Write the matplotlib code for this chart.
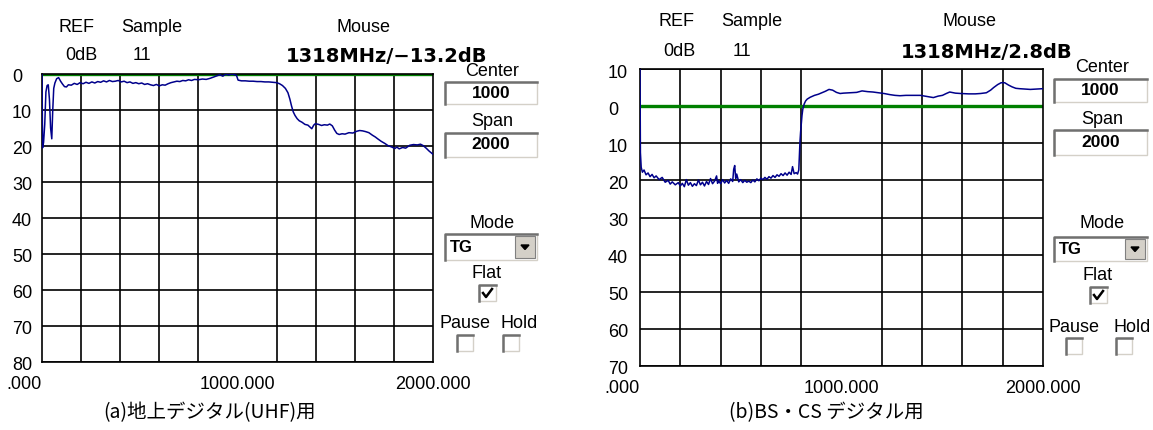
import matplotlib.pyplot as plt
import matplotlib.patches as mpatches
import matplotlib.transforms as mtransforms

# Trace (a) UHF: frequency (MHz) vs level (dB)
uhf_freq = [0, 3, 8, 14, 20, 26, 32, 38, 44, 50, 55, 60, 66, 75, 85, 95, 105, 115, 125, 135,
            150, 165, 180, 195, 210, 225, 240, 255, 270, 285, 300, 315, 330, 345, 360, 375,
            390, 405, 420, 435, 450, 465, 480, 495, 510, 525, 540, 555, 570, 585, 600, 615,
            630, 645, 660, 675, 690, 705, 720, 735, 750, 765, 780, 800, 820, 840, 860, 880,
            895, 910, 925, 940, 955, 970, 985, 995, 1003, 1020, 1040, 1060, 1080, 1100, 1120,
            1140, 1160, 1180, 1200, 1215, 1230, 1245, 1258, 1268, 1276, 1285, 1294, 1305,
            1316, 1330, 1345, 1360, 1372, 1380, 1390, 1398, 1415, 1430, 1444, 1460, 1472,
            1485, 1497, 1508, 1520, 1535, 1550, 1570, 1590, 1610, 1625, 1640, 1655, 1672,
            1690, 1705, 1717, 1735, 1754, 1770, 1790, 1805, 1815, 1827, 1845, 1860, 1881,
            1900, 1920, 1936, 1950, 1965, 1980, 2000]
uhf_db = [0.0, -20.5, -19.0, -14.0, -5.0, -3.2, -3.0, -7.0, -15.0, -18.0, -10.0, -4.0, -2.5,
          -1.3, -1.0, -2.0, -2.8, -3.5, -3.6, -3.0, -3.1, -2.6, -2.9, -2.4, -2.7, -2.3, -2.6,
          -2.2, -2.5, -2.1, -2.3, -1.9, -2.2, -1.8, -2.1, -2.0, -1.8, -2.2, -2.0, -2.4, -2.2,
          -2.6, -2.4, -2.7, -2.5, -2.9, -2.7, -3.0, -3.2, -2.9, -3.3, -3.0, -3.1, -2.7, -2.4,
          -2.2, -2.0, -2.1, -1.8, -1.9, -1.6, -1.8, -1.5, -1.6, -1.4, -1.5, -1.2, -0.8, -0.5,
          -0.2, -0.6, 0.0, -0.3, 0.0, -0.2, -0.4, -1.7, -1.9, -1.9, -2.0, -2.0, -2.1, -2.1,
          -2.2, -2.2, -2.3, -2.4, -2.7, -3.2, -4.0, -5.2, -7.0, -8.8, -10.5, -11.5, -12.4,
          -13.0, -13.4, -14.0, -14.2, -14.8, -15.2, -14.2, -13.8, -14.0, -14.3, -14.1, -14.2,
          -13.9, -14.4, -15.6, -16.5, -16.8, -16.6, -16.7, -16.3, -16.4, -15.9, -15.7, -15.8,
          -16.0, -16.3, -17.0, -17.5, -18.0, -18.7, -19.3, -19.9, -20.3, -20.7, -20.3, -20.8,
          -20.4, -20.6, -19.8, -19.6, -19.7, -19.5, -19.9, -20.6, -21.4, -22.3]

# Trace (b) BS/CS
bs_freq = [0, 2, 6, 12, 20, 30, 40, 50, 60, 70, 80, 95, 110, 125, 140, 150, 160, 175, 190,
           200, 210, 220, 230, 240, 250, 260, 270, 280, 290, 300, 310, 320, 330, 340, 350,
           360, 370, 380, 385, 390, 400, 410, 420, 430, 440, 450, 460, 465, 470, 475, 480,
           490, 500, 510, 520, 530, 540, 550, 560, 570, 580, 590, 600, 610, 620, 630, 640,
           650, 660, 670, 680, 690, 700, 710, 720, 730, 740, 750, 757, 765, 775, 782, 788,
           791, 794, 797, 800, 804, 808, 815, 822, 830, 845, 866, 885, 902, 920, 938, 956,
           975, 993, 1010, 1047, 1075, 1102, 1130, 1156, 1185, 1211, 1240, 1265, 1290, 1320,
           1355, 1392, 1425, 1456, 1480, 1501, 1520, 1537, 1565, 1592, 1630, 1664, 1690,
           1719, 1740, 1755, 1775, 1792, 1810, 1828, 1846, 1865, 1883, 1910, 1937, 1970, 2000]
bs_db = [10.0, -12.5, -16.5, -17.8, -17.2, -18.5, -18.0, -19.0, -18.4, -19.3, -18.8, -19.8,
         -19.2, -20.5, -20.0, -21.0, -20.4, -21.2, -20.6, -21.5, -20.8, -21.7, -19.8, -21.3,
         -20.6, -21.6, -20.9, -21.4, -19.9, -21.2, -20.5, -21.5, -20.3, -21.1, -19.5, -20.9,
         -20.2, -18.8, -20.8, -20.1, -20.9, -19.8, -20.7, -20.0, -20.8, -19.6, -20.3, -17.0,
         -16.0, -19.5, -18.3, -20.4, -19.8, -20.6, -20.0, -20.5, -20.2, -20.6, -19.9, -20.4,
         -19.6, -20.1, -19.4, -19.8, -19.2, -19.7, -19.0, -19.4, -18.7, -19.2, -18.5, -18.9,
         -18.2, -18.7, -18.0, -18.6, -17.8, -18.4, -16.3, -18.2, -17.9, -18.3, -17.2, -13.0,
         -9.5, -7.0, -5.0, -2.5, -0.8, 0.6, 1.4, 1.9, 2.4, 2.9, 3.2, 3.6, 4.0, 4.5, 4.3, 3.7,
         3.4, 3.5, 3.6, 3.7, 4.1, 3.9, 3.8, 3.6, 3.4, 3.1, 2.9, 2.8, 2.9, 2.9, 2.9, 2.6, 2.3,
         2.7, 2.9, 3.4, 3.8, 3.5, 3.4, 3.3, 3.3, 3.4, 3.6, 4.3, 5.0, 5.8, 6.3, 6.3, 5.7, 5.2,
         4.8, 4.7, 4.6, 4.5, 4.6, 4.7]

uhf_yticks = [0, -10, -20, -30, -40, -50, -60, -70, -80]
bs_yticks = [10, 0, -10, -20, -30, -40, -50, -60, -70]
x_ticks = [0, 1000, 2000]
x_labels = ['.000', '1000.000', '2000.000']

W, H = 1153, 430
fig = plt.figure(figsize=(W / 100, H / 100), dpi=100)


def fx(x):
    return x / W


def fy(y):
    return 1 - y / H


def axes_at(left, top, right, bottom):
    return fig.add_axes([fx(left), fy(bottom), (right - left) / W, (bottom - top) / H])


def draw_scope(ax, freq, db, yticks, label_left):
    ax.plot(freq, db, color='#00008b', lw=1.1, zorder=3)
    ax.axhline(0, color='#008000', lw=2.4, zorder=2)
    ax.set_xlim(0, 2000)
    ax.set_ylim(yticks[-1], yticks[0])
    ax.set_xticks(range(0, 2001, 200), minor=True)
    ax.grid(True, which='minor', axis='x', color='black', lw=1.2)
    ax.grid(True, which='major', axis='y', color='black', lw=1.2)
    ax.set_yticks(yticks, [str(abs(v)) for v in yticks])
    ax.set_xticks(x_ticks, x_labels)
    ax.tick_params(length=0, which='both', labelsize=13)
    bbox = ax.get_position()
    pad_px = bbox.x0 * W - label_left
    ax.tick_params(axis='y', pad=pad_px * 0.72)
    ax.tick_params(axis='x', pad=10)
    off = mtransforms.ScaledTranslation(0, -2 / 100, fig.dpi_scale_trans)
    for lab in ax.get_yticklabels():
        lab.set_horizontalalignment('left')
        lab.set_transform(lab.get_transform() + off)
    xl = ax.get_xticklabels()
    xl[0].set_horizontalalignment('right')
    for sp in ax.spines.values():
        sp.set_linewidth(1.2)


def sunken_box(x0, y0, x1, y1):
    fig.patches.append(mpatches.Rectangle((fx(x0), fy(y1)), (x1 - x0) / W, (y1 - y0) / H,
                                          transform=fig.transFigure, facecolor='white',
                                          edgecolor='#d4d0c8', lw=1.0))
    fig.lines.append(plt.Line2D([fx(x0), fx(x0), fx(x1)], [fy(y1), fy(y0), fy(y0)],
                                transform=fig.transFigure, color='#707070', lw=1.8))


def checkbox(x0, y0, x1, y1, checked):
    sunken_box(x0, y0, x1, y1)
    if checked:
        fig.lines.append(plt.Line2D([fx(x0 + 4), fx(x0 + 7), fx(x1 - 4)],
                                    [fy(y0 + 8), fy(y1 - 4), fy(y0 + 4)],
                                    transform=fig.transFigure, color='black', lw=1.8))


def controls(cx, box_l, box_r, ys, check_x, pause_x, hold_x, head, mouse_txt):
    # header
    for txt, x, y in head:
        fig.text(fx(x), fy(y), txt, ha='center', va='center', fontsize=13,
                 family='Liberation Sans')
    fig.text(fx(mouse_txt[1]), fy(mouse_txt[2]), mouse_txt[0], ha='right', va='center',
             fontsize=14, fontweight='bold', family='DejaVu Sans')
    # center / span boxes
    fig.text(fx(cx), fy(ys['center']), 'Center', ha='center', va='center', fontsize=13,
             family='Liberation Sans')
    sunken_box(box_l, ys['cbox'][0], box_r, ys['cbox'][1])
    fig.text(fx((box_l + box_r) / 2), fy(sum(ys['cbox']) / 2), '1000', ha='center',
             va='center', fontsize=12.5, fontweight='bold', family='Liberation Sans')
    fig.text(fx(cx), fy(ys['span']), 'Span', ha='center', va='center', fontsize=13,
             family='Liberation Sans')
    sunken_box(box_l, ys['sbox'][0], box_r, ys['sbox'][1])
    fig.text(fx((box_l + box_r) / 2), fy(sum(ys['sbox']) / 2), '2000', ha='center',
             va='center', fontsize=12.5, fontweight='bold', family='Liberation Sans')
    # mode combo
    fig.text(fx(cx), fy(ys['mode']), 'Mode', ha='center', va='center', fontsize=13,
             family='Liberation Sans')
    m0, m1 = ys['mbox']
    sunken_box(box_l, m0, box_r, m1)
    fig.text(fx(box_l + 5), fy((m0 + m1) / 2), 'TG', ha='left', va='center', fontsize=12,
             fontweight='bold', family='Liberation Sans')
    fig.patches.append(mpatches.Rectangle((fx(box_r - 22), fy(m1 - 2)), 20 / W, (m1 - m0 - 4) / H,
                                          transform=fig.transFigure, facecolor='#d4d0c8',
                                          edgecolor='#808080', lw=0.8))
    tx = box_r - 12
    ty = (m0 + m1) / 2
    fig.patches.append(mpatches.Polygon([(fx(tx - 4), fy(ty - 2)), (fx(tx + 4), fy(ty - 2)),
                                         (fx(tx), fy(ty + 2.5))], closed=True,
                                        transform=fig.transFigure, color='black'))
    # flat / pause / hold
    fig.text(fx(check_x + 8), fy(ys['flat']), 'Flat', ha='center', va='center', fontsize=13,
             family='Liberation Sans')
    checkbox(check_x, ys['fbox'], check_x + 17, ys['fbox'] + 16, True)
    fig.text(fx(pause_x + 8), fy(ys['pause']), 'Pause', ha='center', va='center',
             fontsize=13, family='Liberation Sans')
    fig.text(fx(hold_x + 16), fy(ys['pause']), 'Hold', ha='center', va='center',
             fontsize=13, family='Liberation Sans')
    checkbox(pause_x, ys['pbox'], pause_x + 16, ys['pbox'] + 16, False)
    checkbox(hold_x, ys['pbox'], hold_x + 16, ys['pbox'] + 16, False)


plt.rcParams['font.family'] = ['Liberation Sans', 'DejaVu Sans']

ax_a = axes_at(42, 74, 433, 362)
draw_scope(ax_a, uhf_freq, uhf_db, uhf_yticks, 12)
ax_b = axes_at(640, 69, 1043, 366)
draw_scope(ax_b, bs_freq, bs_db, bs_yticks, 608)

controls(492, 445, 537,
         {'center': 72, 'cbox': (82, 104), 'span': 122, 'sbox': (133, 157), 'mode': 223,
          'mbox': (234, 260), 'flat': 273, 'fbox': 285, 'pause': 324, 'pbox': 335},
         479, 457, 503,
         [('REF', 77, 27), ('Sample', 152, 27), ('Mouse', 364, 27), ('0dB', 81, 56),
          ('11', 142, 56)],
         ('1318MHz/\u221213.2dB', 487, 56))
controls(1102, 1054, 1147,
         {'center': 67, 'cbox': (79, 102), 'span': 119, 'sbox': (130, 155), 'mode': 223,
          'mbox': (237, 261), 'flat': 275, 'fbox': 287, 'pause': 327, 'pbox': 338},
         1090, 1066, 1116,
         [('REF', 676, 22), ('Sample', 752, 22), ('Mouse', 970, 22), ('0dB', 679, 52),
          ('11', 742, 52)],
         ('1318MHz/2.8dB', 1072, 52))

cap_font = ['Noto Sans CJK JP', 'DejaVu Sans']
fig.text(fx(210), fy(413), '(a)地上デジタル(UHF)用', ha='center', va='center', fontsize=14,
         family=cap_font)
fig.text(fx(826), fy(413), '(b)BS・CS デジタル用', ha='center', va='center', fontsize=14,
         family=cap_font)

fig.savefig('out.png', dpi=100)
